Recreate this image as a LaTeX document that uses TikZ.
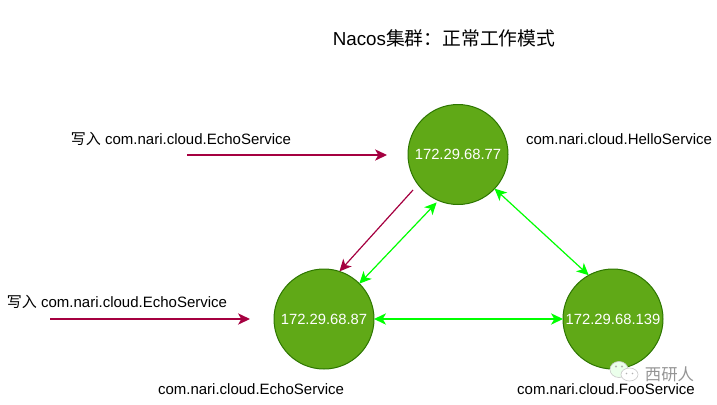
\documentclass[tikz,border=0pt]{standalone}
\usepackage{fontspec}
\setmainfont{Liberation Sans}
\newfontfamily\cjk{Noto Sans CJK SC}
\usetikzlibrary{arrows.meta}
\definecolor{cfill}{HTML}{60A917}
\definecolor{cline}{HTML}{2D7600}
\definecolor{wine}{HTML}{A50040}
\definecolor{lime}{HTML}{00FF00}
\tikzset{
  x=0.75pt,y=-0.75pt,
  hostnode/.style={circle,draw=cline,fill=cfill,line width=0.75pt,minimum size=75pt,inner sep=0pt,outer sep=0pt,text=white,font=\fontsize{11.1}{13}\selectfont},
  lbl/.style={inner sep=0pt,outer sep=0pt,text=black,font=\fontsize{11.25}{13}\selectfont},
  writeflow/.style={draw=wine,line width=0.9pt,-{Stealth[length=9pt,width=8.5pt,inset=2.5pt]}},
  sync/.style={draw=lime,line width=0.9pt,{Stealth[length=9pt,width=8.5pt,inset=2.5pt]}-{Stealth[length=9pt,width=8.5pt,inset=2.5pt]}},
  wm/.style={draw=black!20,fill=white,line width=0.5pt},
  wmdot/.style={fill=black!30,draw=none}
}
\begin{document}
\begin{tikzpicture}
\useasboundingbox (0,0) rectangle (717,404);
\node[inner sep=0pt,font=\fontsize{14.1}{18}\selectfont] (title) at (444,38) {Nacos{\cjk 集群：正常工作模式}};
\node[hostnode] (n77) at (458,154.5) {172.29.68.77};
\node[hostnode] (n87) at (324,319) {172.29.68.87};
\node[hostnode] (n139) at (613,319) {172.29.68.139};
\node[lbl] (w1) at (181,139) {{\cjk 写入} com.nari.cloud.EchoService};
\node[lbl] (w2) at (117,302) {{\cjk 写入} com.nari.cloud.EchoService};
\node[lbl] (s77) at (619,139) {com.nari.cloud.HelloService};
\node[lbl] (s87) at (251,389) {com.nari.cloud.EchoService};
\node[lbl] (s139) at (606,389) {com.nari.cloud.FooService};
\coordinate (a1) at (187,155);
\coordinate (a2) at (387,155);
\coordinate (b1) at (50,319);
\coordinate (b2) at (250,319);
\coordinate (c1) at (413,190);
\draw[writeflow] (a1) -- (a2);
\draw[writeflow] (b1) -- (b2);
\draw[writeflow] (c1) -- (n87.72);
\draw[sync,shorten >=2pt] (n87.45) -- (n77.-113);
\draw[sync] (n77.-43) -- (n139.119);
\draw[sync] (n87.0) -- (n139.180);
% watermark
\draw[wm,fill=green!8!white] (619,369.5) ellipse (9 and 8);
\draw[wm] (629.5,374.5) ellipse (8.5 and 6.5);
\fill[wmdot] (616,366.5) circle (1.1);
\fill[wmdot] (622,366.5) circle (1.1);
\fill[wmdot] (626.5,373.5) circle (0.8);
\fill[wmdot] (632.5,373.5) circle (0.8);
\node[inner sep=0pt,text=black!42,font=\cjk\fontsize{12.3}{14}\selectfont] (wmtext) at (669.5,374) {西研人};
\end{tikzpicture}
\end{document}
